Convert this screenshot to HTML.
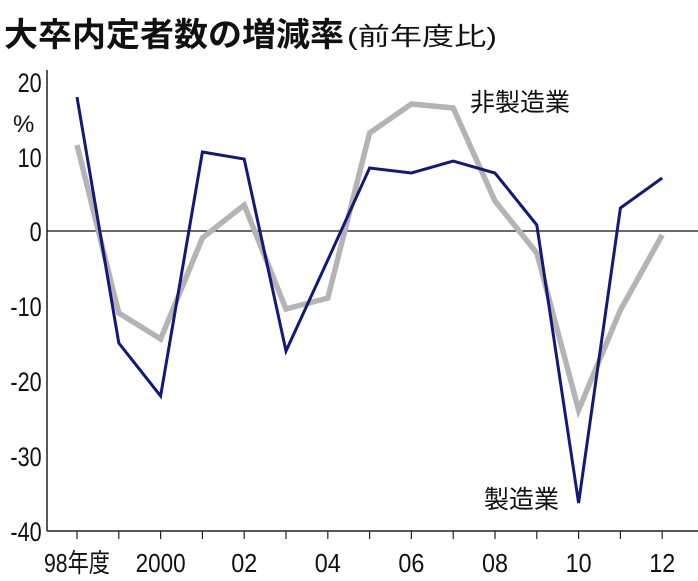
<!DOCTYPE html>
<html><head><meta charset="utf-8"><style>
body{margin:0;background:#fff;}
svg{display:block;font-family:"Liberation Sans","Noto Sans CJK JP",sans-serif;}
</style></head><body>
<svg width="698" height="581" viewBox="0 0 698 581">
<text x="4" y="46" font-size="33" font-weight="bold" fill="#111" textLength="340" lengthAdjust="spacingAndGlyphs">大卒内定者数の増減率</text>
<text x="347" y="45" font-size="25" fill="#111" textLength="150" lengthAdjust="spacingAndGlyphs">(前年度比)</text>
<g font-size="27" fill="#111" text-anchor="end" transform="scale(0.8,1)">
<text x="52" y="92">20</text>
<text x="52" y="167">10</text>
<text x="52" y="241">0</text>
<text x="52" y="316">-10</text>
<text x="52" y="391">-20</text>
<text x="52" y="466">-30</text>
<text x="52" y="541">-40</text>
</g>
<text x="13" y="132" font-size="24" fill="#111">%</text>
<line x1="47" y1="70" x2="47" y2="531" stroke="#222" stroke-width="1.5"/>
<line x1="47" y1="531" x2="698" y2="531" stroke="#222" stroke-width="1.5"/>
<line x1="47" y1="231" x2="698" y2="231" stroke="#111" stroke-width="1.2"/>
<g stroke="#222" stroke-width="1.2">
<line x1="77" y1="531" x2="77" y2="539"/><line x1="118.8" y1="531" x2="118.8" y2="539"/><line x1="160.6" y1="531" x2="160.6" y2="539"/><line x1="202.4" y1="531" x2="202.4" y2="539"/><line x1="244.2" y1="531" x2="244.2" y2="539"/><line x1="286" y1="531" x2="286" y2="539"/><line x1="327.8" y1="531" x2="327.8" y2="539"/><line x1="369.6" y1="531" x2="369.6" y2="539"/><line x1="411.4" y1="531" x2="411.4" y2="539"/><line x1="453.2" y1="531" x2="453.2" y2="539"/><line x1="495" y1="531" x2="495" y2="539"/><line x1="536.8" y1="531" x2="536.8" y2="539"/><line x1="578.6" y1="531" x2="578.6" y2="539"/><line x1="620.4" y1="531" x2="620.4" y2="539"/><line x1="662.2" y1="531" x2="662.2" y2="539"/>
</g>
<g font-size="26" fill="#111" text-anchor="middle">
<text x="77" y="572" textLength="66" lengthAdjust="spacingAndGlyphs">98年度</text>
<text x="160.6" y="572" textLength="50" lengthAdjust="spacingAndGlyphs">2000</text>
<text x="244.2" y="572" textLength="26" lengthAdjust="spacingAndGlyphs">02</text>
<text x="327.8" y="572" textLength="26" lengthAdjust="spacingAndGlyphs">04</text>
<text x="411.4" y="572" textLength="26" lengthAdjust="spacingAndGlyphs">06</text>
<text x="495" y="572" textLength="26" lengthAdjust="spacingAndGlyphs">08</text>
<text x="578.6" y="572" textLength="26" lengthAdjust="spacingAndGlyphs">10</text>
<text x="662.2" y="572" textLength="26" lengthAdjust="spacingAndGlyphs">12</text>
</g>
<polyline fill="none" stroke="#b4b4b4" stroke-width="5.5" stroke-linejoin="miter" points="77,145 118.8,313 160.6,339 202.4,238 244.2,205 286,309 327.8,298 369.6,133 411.4,104 453.2,108 495,201 536.8,253 578.6,410 620.4,310 662.2,235"/>
<polyline fill="none" stroke="#101a78" stroke-width="3" stroke-linejoin="miter" points="77,97 118.8,343 160.6,396 202.4,152 244.2,159 286,351 327.8,260 369.6,168 411.4,173 453.2,161 495,173 536.8,225 578.6,503 620.4,208 662.2,178"/>
<text x="470" y="111" font-size="25" fill="#111">非製造業</text>
<text x="484" y="508" font-size="25" fill="#111">製造業</text>
</svg>
</body></html>
